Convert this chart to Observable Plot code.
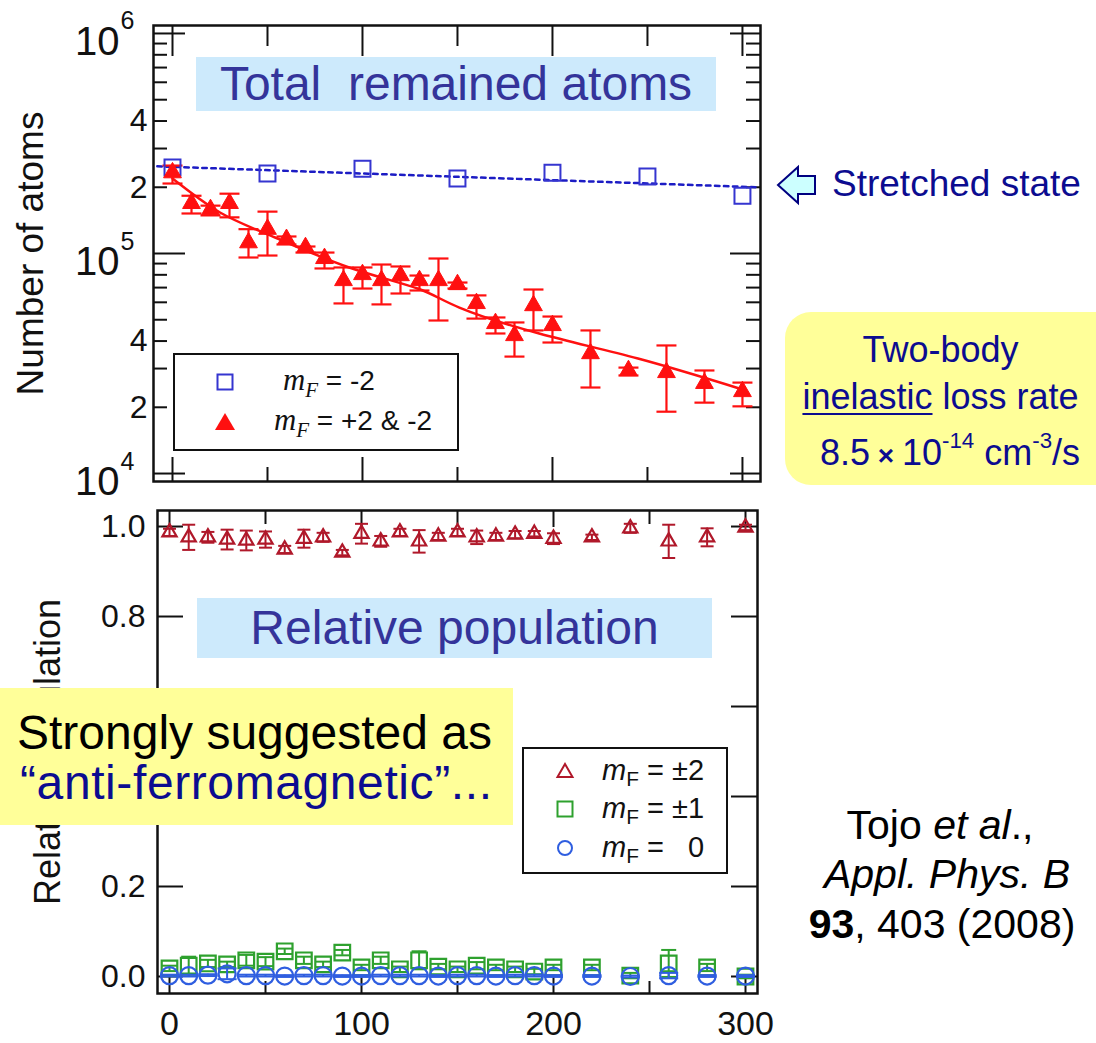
<!DOCTYPE html>
<html><head><meta charset="utf-8">
<script src="https://cdn.jsdelivr.net/npm/d3@7"></script>
<script src="https://cdn.jsdelivr.net/npm/@observablehq/plot@0.6"></script>
<style>
body{margin:0;background:#fff;font-family:"Liberation Sans",Arial,Helvetica,sans-serif;}
#root{position:relative;width:1096px;height:1043px;overflow:hidden;background:#fff;}
#root svg{position:absolute;left:0;}
.abs{position:absolute;}
.title{background:#cdeafc;color:#34349a;font-size:48px;text-align:center;white-space:pre;}
.navy{color:#0c0c90;}
.leg{background:#fff;border:2.5px solid #111;box-sizing:border-box;}
.leg .row{position:absolute;height:34px;line-height:34px;white-space:pre;color:#111;}
.leg svg{position:absolute;}
sup{font-size:0.62em;vertical-align:0;position:relative;top:-0.75em;}
</style></head><body><div id="root"></div>
<script>
// ---------- data: top panel (number of atoms) ----------
const stretchedT = [0, 50, 100, 150, 200, 250, 300];
const stretchedN = [2.46e5, 2.31e5, 2.43e5, 2.19e5, 2.33e5, 2.24e5, 1.83e5];
const stretchedFitT = [-8, 308];
const stretchedFitN = [2.49e5, 2.0e5];

const mixT  = [0,10,20,30,40,50,60,70,80,90,100,110,120,130,140,150,160,170,180,190,200,220,240,260,280,300];
const mixN  = [2.33e5,1.69e5,1.585e5,1.69e5,1.12e5,1.29e5,1.16e5,1.065e5,9.5e4,7.54e4,8.03e4,7.54e4,7.94e4,7.54e4,7.54e4,7.23e4,5.93e4,4.81e4,4.24e4,5.8e4,4.71e4,3.51e4,2.94e4,2.88e4,2.57e4,2.36e4];
const mixHi = [2.51e5,1.83e5,1.65e5,1.87e5,1.29e5,1.55e5,1.195e5,1.076e5,1.01e5,8.64e4,8.64e4,8.91e4,8.73e4,7.94e4,9.49e4,7.38e4,6.45e4,5.12e4,4.86e4,6.86e4,5.17e4,4.47e4,3.03e4,3.82e4,2.94e4,2.59e4];
const mixLo = [2.08e5,1.52e5,1.49e5,1.46e5,9.59e4,9.79e4,1.099e5,1.01e5,8.55e4,5.93e4,6.93e4,5.87e4,6.58e4,6.79e4,4.96e4,6.93e4,5.06e4,4.33e4,3.4e4,4.47e4,3.94e4,2.46e4,2.79e4,1.91e4,2.1e4,2.02e4];
const mixFitT = [0, 25, 54, 93, 129, 151, 193, 245, 300];
const mixFitN = [2.19e5, 1.536e5, 1.182e5, 8.64e4, 6.93e4, 5.68e4, 4.33e4, 3.33e4, 2.41e4];

const topDecades = [1e4, 1e5, 1e6];
const topMinorLabels = [2e4, 4e4, 2e5, 4e5];
const topMinor = [2e4,3e4,4e4,5e4,6e4,7e4,8e4,9e4,2e5,3e5,4e5,5e5,6e5,7e5,8e5,9e5];
const xMajor = [0, 100, 200, 300];
const xMinor = [50, 150, 250];

// ---------- data: bottom panel (relative population) ----------
const popT = mixT;
const pop2    = [0.987,0.976,0.976,0.971,0.969,0.971,0.949,0.973,0.976,0.942,0.984,0.967,0.987,0.967,0.978,0.987,0.976,0.978,0.982,0.984,0.973,0.976,0.996,0.967,0.976,0.998];
const pop2Err = [0.008,0.028,0.012,0.022,0.022,0.018,0.008,0.02,0.01,0.006,0.022,0.012,0.008,0.025,0.008,0.008,0.015,0.008,0.008,0.006,0.012,0.006,0.01,0.037,0.02,0.006];
const pop1    = [0.018,0.024,0.029,0.027,0.036,0.033,0.056,0.036,0.027,0.053,0.02,0.036,0.016,0.036,0.022,0.016,0.024,0.02,0.016,0.011,0.02,0.02,0.002,0.029,0.02,0.0];
const pop1Err = [0.006,0.02,0.008,0.006,0.012,0.01,0.006,0.008,0.006,0.006,0.006,0.008,0.006,0.02,0.006,0.006,0.008,0.006,0.006,0.006,0.006,0.006,0.006,0.03,0.008,0.004];
const pop0    = [0.002,0.002,0.003,0.006,0.002,0.002,0.001,0.002,0.002,0.001,0.001,0.002,0.002,0.002,0.001,0.002,0.002,0.001,0.002,0.002,0.001,0.001,0.0,0.002,0.001,0.001];
const pop0Err = [0.002,0.002,0.002,0.012,0.002,0.002,0.002,0.002,0.002,0.002,0.002,0.002,0.002,0.002,0.002,0.002,0.002,0.002,0.002,0.002,0.002,0.002,0.002,0.006,0.002,0.002];
const popTicks = [0, 0.2, 0.4, 0.6, 0.8, 1.0];
const popTickLabels = [0, 0.2, 0.8, 1.0]; // 0.4 and 0.6 are hidden under the yellow note

// ---------- colours ----------
const RED = "#ff1010", BLUE_SQ = "#3535d0", BLUE_FIT = "#1c1cc4";
const DKRED = "#b0182a", GREEN = "#2ea12e", BLUE_C = "#2f5ee0";

const capSym = {draw(ctx, size){const w = Math.sqrt(size / Math.PI); ctx.moveTo(-w, 0); ctx.lineTo(w, 0);}};
const FONT = "Liberation Sans, Arial, Helvetica, sans-serif";

const mixRows = mixT.map((t, i) => ({t, v: mixN[i], lo: mixLo[i], hi: mixHi[i]}));
const stRows = stretchedT.map((t, i) => ({t, v: stretchedN[i]}));
const stFit = stretchedFitT.map((t, i) => ({t, v: stretchedFitN[i]}));
const mixFit = mixFitT.map((t, i) => ({t, v: mixFitN[i]}));

function errMarks(rows, color, capR, sw) {
  return [
    Plot.ruleX(rows, {x: "t", y1: "lo", y2: "hi", stroke: color, strokeWidth: sw}),
    Plot.dot(rows, {x: "t", y: "lo", symbol: capSym, r: capR, stroke: color, fill: "none", strokeWidth: sw}),
    Plot.dot(rows, {x: "t", y: "hi", symbol: capSym, r: capR, stroke: color, fill: "none", strokeWidth: sw})
  ];
}

const tickStyle = {fill: "none", stroke: "#111", strokeWidth: 2, label: null};

const topPlot = Plot.plot({
  width: 780, height: 500,
  marginLeft: 153, marginRight: 20, marginTop: 25, marginBottom: 19,
  style: {background: "transparent", fontFamily: FONT, color: "#111", overflow: "visible"},
  x: {domain: [-10, 309.5], axis: null},
  y: {type: "log", domain: [9.2e3, 1.087e6], axis: null},
  marks: [
    Plot.axisY(topDecades, {anchor: "left", tickSize: 32, dx: 32, ...tickStyle}),
    Plot.axisY(topMinor, {anchor: "left", tickSize: 14, dx: 14, ...tickStyle}),
    Plot.axisY(topDecades, {anchor: "right", tickSize: 31, dx: -31, ...tickStyle}),
    Plot.axisY(topMinor, {anchor: "right", tickSize: 15, dx: -15, ...tickStyle}),
    Plot.axisX(xMajor, {anchor: "bottom", tickSize: 24, dy: -24, ...tickStyle}),
    Plot.axisX(xMinor, {anchor: "bottom", tickSize: 14, dy: -14, ...tickStyle}),
    Plot.axisX(xMajor, {anchor: "top", tickSize: 30, dy: 30, ...tickStyle}),
    Plot.axisX(xMinor, {anchor: "top", tickSize: 20, dy: 20, ...tickStyle}),
    Plot.frame({stroke: "#111", strokeWidth: 2.5}),
    Plot.text(topMinorLabels, {y: d => d, text: d => String(Math.round(d / 10 ** Math.floor(Math.log10(d)))), frameAnchor: "left", textAnchor: "end", dx: -6, fontSize: 32, fill: "#111"}),
    Plot.text(topDecades, {y: d => d, text: () => "10", frameAnchor: "left", textAnchor: "end", dx: -34, dy: 9, fontSize: 40, fill: "#111"}),
    Plot.text(topDecades, {y: d => d, text: d => String(Math.round(Math.log10(d))), frameAnchor: "left", textAnchor: "start", dx: -33, dy: -12, fontSize: 25, fill: "#111"}),
    Plot.text(["Number of atoms"], {text: d => d, frameAnchor: "left", textAnchor: "middle", dx: -122, rotate: -90, fontSize: 37, fill: "#111"}),
    Plot.line(stFit, {x: "t", y: "v", stroke: BLUE_FIT, strokeWidth: 2.5, strokeDasharray: "4.5,4.5"}),
    Plot.line(mixFit, {x: "t", y: "v", stroke: RED, strokeWidth: 2.5, curve: "natural"}),
    ...errMarks(mixRows, RED, 10, 2.2),
    Plot.dot(stRows, {x: "t", y: "v", symbol: "square", r: 9, stroke: BLUE_SQ, fill: "none", strokeWidth: 2}),
    Plot.dot(mixRows, {x: "t", y: "v", symbol: "triangle", r: 6.6, fill: RED, stroke: RED, strokeWidth: 1})
  ]
});

const rows2 = popT.map((t, i) => ({t, v: pop2[i], lo: pop2[i] - pop2Err[i], hi: pop2[i] + pop2Err[i]}));
const rows1 = popT.map((t, i) => ({t, v: pop1[i], lo: pop1[i] - pop1Err[i], hi: pop1[i] + pop1Err[i]}));
const rows0 = popT.map((t, i) => ({t, v: pop0[i], lo: pop0[i] - pop0Err[i], hi: pop0[i] + pop0Err[i]}));

const botPlot = Plot.plot({
  width: 780, height: 553,
  marginLeft: 157, marginRight: 23, marginTop: 20, marginBottom: 50,
  style: {background: "transparent", fontFamily: FONT, color: "#111", overflow: "visible"},
  x: {domain: [-6.25, 306.25], axis: null},
  y: {domain: [-0.0378, 1.0356], axis: null},
  marks: [
    Plot.axisY(popTicks, {anchor: "left", tickSize: 26, dx: 26, ...tickStyle}),
    Plot.axisY(popTicks, {anchor: "right", tickSize: 27, dx: -27, ...tickStyle}),
    Plot.axisX(xMajor, {anchor: "bottom", tickSize: 16, dy: -16, ...tickStyle}),
    Plot.axisX(xMinor, {anchor: "bottom", tickSize: 12, dy: -12, ...tickStyle}),
    Plot.axisX(xMajor, {anchor: "top", tickSize: 16, dy: 16, ...tickStyle}),
    Plot.axisX(xMinor, {anchor: "top", tickSize: 13, dy: 13, ...tickStyle}),
    Plot.frame({stroke: "#111", strokeWidth: 2.5}),
    Plot.text(popTickLabels, {y: d => d, text: d => d.toFixed(1), frameAnchor: "left", textAnchor: "end", dx: -12, fontSize: 32, fill: "#111"}),
    Plot.text(xMajor, {x: d => d, text: d => String(d), frameAnchor: "bottom", dy: 41, fontSize: 34, fill: "#111"}),
    Plot.text(["Relative population"], {text: d => d, frameAnchor: "left", textAnchor: "middle", dx: -109, rotate: -90, fontSize: 36, fill: "#111"}),
    ...errMarks(rows1, GREEN, 7.5, 2),
    Plot.dot(rows1, {x: "t", y: "v", symbol: "square", r: 8.8, stroke: GREEN, fill: "none", strokeWidth: 2.2}),
    ...errMarks(rows0, BLUE_C, 9.5, 2),
    Plot.dot(rows0, {x: "t", y: "v", symbol: "circle", r: 8.5, stroke: BLUE_C, fill: "none", strokeWidth: 2.2}),
    ...errMarks(rows2, DKRED, 6.5, 2),
    Plot.dot(rows2, {x: "t", y: "v", symbol: "triangle", r: 5.3, stroke: DKRED, fill: "none", strokeWidth: 2.2})
  ]
});

const root = document.getElementById("root");
topPlot.style.top = "0px";
botPlot.style.top = "490px";
root.appendChild(topPlot);
root.appendChild(botPlot);

const sq = c => `<svg width="20" height="20" viewBox="-10 -10 20 20"><rect x="-7.5" y="-7.5" width="15" height="15" fill="none" stroke="${c}" stroke-width="2"/></svg>`;
const triF = c => `<svg width="24" height="22" viewBox="-12 -11 24 22"><path d="M0,-9 L10,8 L-10,8 Z" fill="${c}"/></svg>`;
const triO = c => `<svg width="20" height="20" viewBox="-10 -10 20 20"><path d="M0,-7 L7.5,6 L-7.5,6 Z" fill="none" stroke="${c}" stroke-width="2"/></svg>`;
const circ = c => `<svg width="20" height="20" viewBox="-10 -10 20 20"><circle r="7" fill="none" stroke="${c}" stroke-width="2"/></svg>`;
const mSerif = `<span style="font-family:'Liberation Serif',serif;font-style:italic;font-size:1.1em">m</span><span style="font-family:'Liberation Serif',serif;font-style:italic;font-size:0.75em;position:relative;top:0.35em">F</span>`;
const mSans = `<i>m</i><span style="font-size:0.72em;position:relative;top:0.3em">F</span>`;

const html = `
<div class="abs title" style="left:196px;top:57px;width:520px;height:54px;line-height:54px;">Total  remained atoms</div>
<div class="abs title" style="left:197px;top:598px;width:515px;height:60px;line-height:60px;">Relative population</div>

<div class="abs leg" style="left:173px;top:353px;width:286px;height:98px;font-size:28px;">
  <div style="position:absolute;left:40px;top:17px;">${sq(BLUE_SQ)}</div>
  <div class="row" style="left:108px;top:8px;">${mSerif} = -2</div>
  <div style="position:absolute;left:38px;top:56px;">${triF(RED)}</div>
  <div class="row" style="left:99px;top:48px;">${mSerif} = +2 &amp; -2</div>
</div>

<div class="abs leg" style="left:522px;top:747px;width:206px;height:127px;font-size:29px;">
  <div style="position:absolute;left:31px;top:12px;">${triO(DKRED)}</div>
  <div class="row" style="left:78px;top:4px;">${mSans} = ±2</div>
  <div style="position:absolute;left:31px;top:50px;">${sq(GREEN)}</div>
  <div class="row" style="left:78px;top:42px;">${mSans} = ±1</div>
  <div style="position:absolute;left:31px;top:89px;">${circ(BLUE_C)}</div>
  <div class="row" style="left:78px;top:81px;">${mSans} =   0</div>
</div>

<svg class="abs" style="left:775px;top:164px;" width="44" height="44" viewBox="0 0 44 44">
  <path d="M3,21 L23,3 L23,12 L40,12 L40,30 L23,30 L23,39 Z" fill="#ccffff" stroke="#000080" stroke-width="2" stroke-linejoin="miter"/>
</svg>
<div class="abs navy" style="left:832px;top:162px;font-size:37px;line-height:44px;white-space:nowrap;">Stretched state</div>

<div class="abs" style="left:785px;top:312px;width:340px;height:173px;background:#ffff99;border-radius:26px;"></div>
<div class="abs navy" style="left:785px;top:328px;width:311px;text-align:center;font-size:36px;line-height:44px;">Two-body</div>
<div class="abs navy" style="left:785px;top:375px;width:311px;text-align:center;font-size:36px;line-height:44px;white-space:nowrap;"><span style="text-decoration:underline;text-decoration-thickness:2px;text-underline-offset:4px;">inelastic</span> loss rate</div>
<div class="abs navy" style="left:820px;top:431px;font-size:36px;line-height:44px;white-space:nowrap;">8.5<span style="font-size:28px;font-weight:bold;"> × </span>10<sup>-14</sup> cm<sup>-3</sup>/s</div>

<div class="abs" style="left:0px;top:688px;width:513px;height:137px;background:#ffff99;"></div>
<div class="abs" style="left:17px;top:706px;font-size:48px;line-height:54px;color:#000;white-space:nowrap;">Strongly suggested as</div>
<div class="abs navy" style="left:20px;top:756px;font-size:48px;line-height:54px;white-space:nowrap;letter-spacing:0.6px;">“anti-ferromagnetic”...</div>

<div class="abs" style="left:785px;top:800px;width:310px;text-align:center;font-size:41px;line-height:50px;color:#000;">Tojo <i>et al</i>.,</div>
<div class="abs" style="left:792px;top:849px;width:310px;text-align:center;font-size:41px;line-height:50px;color:#000;"><i>Appl. Phys. B</i></div>
<div class="abs" style="left:787px;top:899px;width:310px;text-align:center;font-size:41px;line-height:50px;color:#000;"><b>93</b>, 403 (2008)</div>
`;
root.insertAdjacentHTML("beforeend", html);
</script>
</body></html>
